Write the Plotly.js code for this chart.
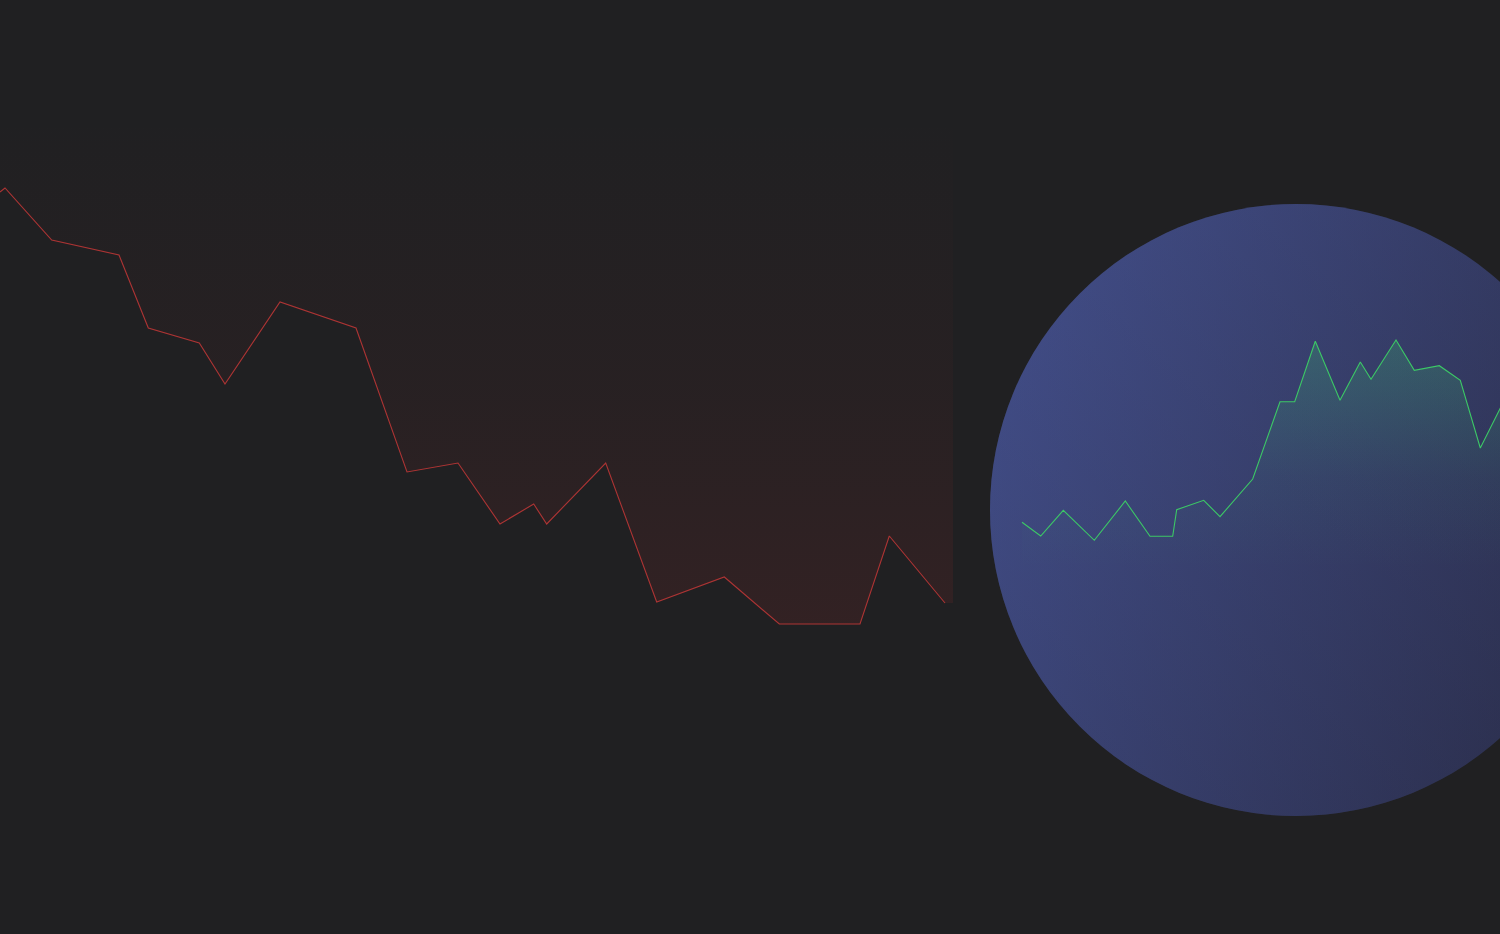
<!DOCTYPE html>
<html>
<head>
<meta charset="utf-8">
<script src="https://cdn.plot.ly/plotly-3.0.1.min.js"></script>
<style>
  html, body { margin: 0; padding: 0; background: #202022; }
  #chart { width: 1500px; height: 934px; }
</style>
</head>
<body>
<div id="chart"></div>
<script>
// Falling series (left panel)
const fallX = [0, 0.5, 5.17, 11.9, 14.83, 19.93, 22.5, 28.0, 35.6, 40.7, 45.8, 50.0, 53.37, 54.67, 60.57, 65.67, 72.43, 77.93, 86.0, 88.93, 94.5];
const fallY = [74.2, 74.6, 69.4, 67.9, 60.6, 59.1, 55.0, 63.2, 60.6, 46.2, 47.1, 41.0, 43.0, 41.0, 47.1, 33.2, 35.7, 31.0, 31.0, 39.8, 33.1];

// Rising series (right panel, inside the disc)
const riseX = [4.2, 6.07, 8.33, 11.43, 14.53, 17.0, 19.27, 19.67, 22.37, 24.0, 27.27, 30.0, 31.47, 33.53, 36.0, 38.03, 39.1, 41.6, 43.43, 45.93, 48.03, 50.03, 52.0, 53.2];
const riseY = [41.17, 39.8, 42.37, 39.37, 43.3, 39.77, 39.77, 42.43, 43.37, 41.73, 45.5, 53.23, 53.23, 59.27, 53.37, 57.2, 55.47, 59.4, 56.37, 56.83, 55.37, 48.6, 52.53, 54.8];

// Disc decoration (centre in right-panel data units)
const discX = [31.6];
const discY = [42.4];

const BG = '#202022';
const RED = '#ad3434';
const GREEN = '#3cc866';

const xEnd = 95.3, fillTop = 82;
const fallFillX = fallX.concat([xEnd, xEnd, fallX[0]]);
const fallFillY = fallY.concat([fallY[fallY.length - 1], fillTop, fillTop]);

const traces = [
  {
    x: fallFillX, y: fallFillY, xaxis: 'x', yaxis: 'y',
    type: 'scatter', mode: 'none', fill: 'toself',
    fillgradient: {
      type: 'vertical', start: 31, stop: fillTop,
      colorscale: [[0, 'rgba(200,45,45,0.11)'], [0.45, 'rgba(200,45,45,0.045)'], [1, 'rgba(200,45,45,0)']]
    },
    hoverinfo: 'skip', showlegend: false
  },
  {
    x: fallX, y: fallY, xaxis: 'x', yaxis: 'y',
    type: 'scatter', mode: 'lines',
    line: { color: RED, width: 1.1 },
    hoverinfo: 'skip', showlegend: false
  },
  {
    x: discX, y: discY, xaxis: 'x2', yaxis: 'y',
    type: 'scatter', mode: 'markers',
    marker: { size: 612, color: '#434f8b', line: { width: 0 },
              gradient: { type: 'horizontal', color: '#2b2e4a' } },
    hoverinfo: 'skip', showlegend: false
  },
  {
    x: discX, y: discY, xaxis: 'x2', yaxis: 'y',
    type: 'scatter', mode: 'markers',
    marker: { size: 612, color: 'rgba(66,78,138,0.3)', line: { width: 0 },
              gradient: { type: 'vertical', color: 'rgba(38,40,66,0.3)' } },
    hoverinfo: 'skip', showlegend: false
  },
  {
    x: riseX, y: riseY, xaxis: 'x2', yaxis: 'y',
    type: 'scatter', mode: 'lines', fill: 'tozeroy',
    fillgradient: {
      type: 'vertical', start: 36.5, stop: 59.4,
      colorscale: [[0, 'rgba(60,200,110,0)'], [0.4, 'rgba(60,200,110,0.05)'], [1, 'rgba(60,200,110,0.24)']]
    },
    line: { color: GREEN, width: 1.1 },
    hoverinfo: 'skip', showlegend: false
  }
];

const hidden = { visible: false, showgrid: false, zeroline: false, showticklabels: false, fixedrange: true };

const layout = {
  width: 1500, height: 934,
  margin: { l: 0, r: 0, t: 0, b: 0, pad: 0 },
  paper_bgcolor: BG, plot_bgcolor: 'rgba(0,0,0,0)',
  showlegend: false,
  xaxis: Object.assign({}, hidden, { domain: [0, 953 / 1500], range: [0, 95.3], anchor: 'y' }),
  xaxis2: Object.assign({}, hidden, { domain: [980 / 1500, 1], range: [0, 52], anchor: 'y' }),
  yaxis: Object.assign({}, hidden, { domain: [0, 1], range: [0, 93.4] })
};

Plotly.newPlot('chart', traces, layout, { displayModeBar: false, staticPlot: true });
</script>
</body>
</html>
